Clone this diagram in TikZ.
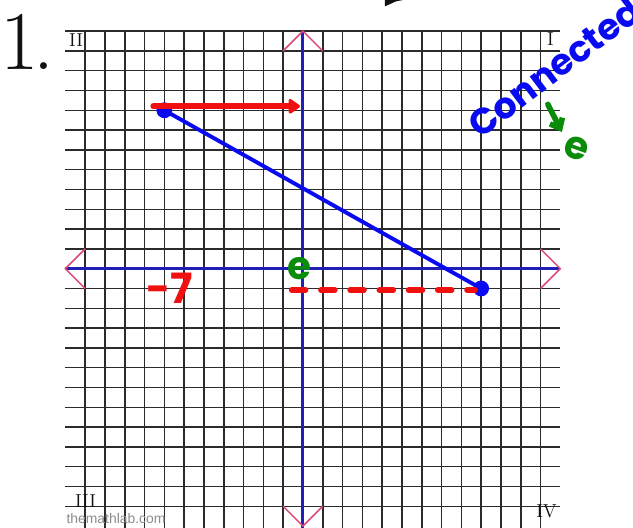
\documentclass[tikz,border=0pt]{standalone}
\usepackage{fontspec}
\usepackage{xcolor}
\usepackage{tikz}
\usetikzlibrary{arrows.meta}
\newfontfamily\handfont{Poppins}
\newfontfamily\webfont{Liberation Sans}
\definecolor{INK}{HTML}{111111}
\definecolor{GRID}{HTML}{2B2B2B}
\definecolor{AXIS}{HTML}{2020B8}
\definecolor{TIP}{HTML}{DC4B73}
\definecolor{SEG}{HTML}{0A0AF0}
\definecolor{MARK}{HTML}{F01010}
\definecolor{NOTE}{HTML}{0A8C0A}
\definecolor{WEB}{HTML}{8C8C8C}

\begin{document}
\begin{tikzpicture}[x=0.5cm, y=0.5cm,
  gridline/.style={draw=GRID, line width=1.1pt},
  axisline/.style={draw=AXIS, line width=2.2pt},
  tipline/.style={draw=TIP, line width=1.1pt},
  quad/.style={font=\fontsize{13.5}{13.5}\selectfont, text=INK, inner sep=0pt},
  dot/.style={circle, fill=SEG, minimum size=0.4cm, inner sep=0pt},
  seg/.style={draw=SEG, line width=2.8pt},
  redpen/.style={draw=MARK, line width=4.5pt, line cap=round},
  greenpen/.style={draw=NOTE, line width=4pt, line cap=round, line join=round},
  hand/.style={font=\handfont\bfseries\fontsize{#1}{#1}\selectfont, inner sep=0pt},
]
\useasboundingbox (-15.3,-13.05) rectangle (16.67,13.57);
\clip (-15.3,-13.05) rectangle (16.67,13.57);

% ---- grid -----------------------------------------------------------------
\foreach \y in {-12,...,12}
  \draw[gridline] (-12,\y) -- (13,\y);
\foreach \x in {-11,...,12}
  \draw[gridline] (\x,12) -- (\x,-13.2);

% ---- axes and their ends --------------------------------------------------
\draw[axisline] (-12,0) -- (13,0);
\draw[axisline] (0,12) -- (0,-13.2);
\draw[tipline] (-1,11) -- (0,12) -- (1,11);
\draw[tipline] (-1,-12) -- (0,-13) -- (1,-12);
\draw[tipline] (-11,1) -- (-12,0) -- (-11,-1);
\draw[tipline] (12,1) -- (13,0) -- (12,-1);

% ---- labels ---------------------------------------------------------------
\node[font=\fontsize{60}{60}\selectfont, text=INK, anchor=base west, inner sep=0pt] (num) at (-15.3,10.04) {1\kern-0.06em.};
\node[quad] (q2) at (-11.46,11.55) {II};
\node[quad] (q1) at (12.5,11.6) {I};
\node[quad] (q3) at (-10.98,-11.76) {III};
\node[quad] (q4) at (12.3,-12.26) {IV};
\node[font=\webfont\fontsize{10}{10}\selectfont, text=WEB, inner sep=0pt] (web) at (-9.44,-12.64) {themathlab.com};

% ---- segment --------------------------------------------------------------
\node[dot] (ptA) at (-7,8) {};
\node[dot] (ptB) at (9,-1) {};
\draw[seg] (ptA.center) -- (ptB.center);

% ---- pen marks ------------------------------------------------------------
\coordinate (rS) at (-7.55,8.2);
\coordinate (rE) at (-0.15,8.2);
\draw[redpen, -{Triangle[length=9pt,width=12pt,round]}] (rS) -- (rE);
\coordinate (dS) at (-0.57,-1.08);
\coordinate (dE) at (8.69,-1.08);
\draw[redpen, line width=4pt, dash pattern=on 10pt off 11pt] (dS) -- (dE);
\node[hand=30, text=MARK] (run) at (-6.72,-0.97) {-7};
\node[hand=28, text=NOTE] (orig) at (-0.15,0.02) {e};

\node[hand=26, text=SEG, rotate=37, anchor=base west] (conn) at (8.94,6.5) {Connected};
\coordinate (gS) at (12.37,8.3);
\coordinate (gE) at (13.08,6.9);
\draw[greenpen, -{Straight Barb[length=6pt,width=10pt]}] (gS) -- (gE);
\node[hand=28, text=NOTE, rotate=-20] (mark) at (13.8,6.1) {e};

\fill[INK] (4.14,13.6) -- (5.2,13.6) -- (4.7,13.5) -- (4.14,13.25) -- cycle;

\end{tikzpicture}
\end{document}
